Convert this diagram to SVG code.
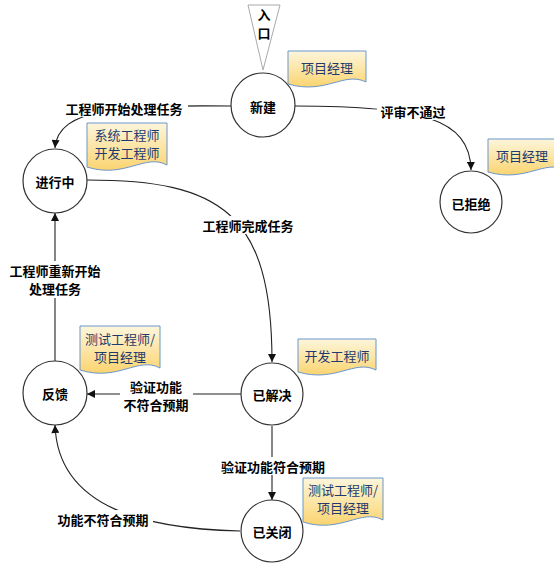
<svg xmlns="http://www.w3.org/2000/svg" width="554" height="571" viewBox="0 0 554 571">
<style>
.node{fill:#fff;stroke:#333;stroke-width:1.2}
.t{font-family:"Noto Sans CJK SC","Noto Sans",sans-serif;font-size:13px;font-weight:bold;fill:#000;text-anchor:middle;dominant-baseline:central}
.nt{font-family:"Noto Sans CJK SC","Noto Sans",sans-serif;font-size:13px;fill:#1f3a6e;text-anchor:middle;dominant-baseline:central}
.c{fill:none;stroke:#222;stroke-width:1.1}
.doc{fill:url(#g);stroke:#6a96cc;stroke-width:1}
.bg{fill:#fff}
</style>
<defs>
<linearGradient id="g" x1="0" y1="0" x2="0" y2="1">
<stop offset="0" stop-color="#fdf6dc"/>
<stop offset="1" stop-color="#fbd470"/>
</linearGradient>
<marker id="a" viewBox="0 0 10 10" refX="10" refY="5" markerWidth="9" markerHeight="8" markerUnits="userSpaceOnUse" orient="auto">
<path d="M0,0 L10,5 L0,10 z" fill="#111"/>
</marker>
<path id="d1" d="M0,0 H78 V31 C56,20 38,44 0,33 Z"/>
<path id="d2" d="M0,0 H80 V42 C58,30 38,56 0,44 Z"/>
</defs>

<g id="connectors">
<path class="c" d="M231,106 C120,105 58,108 55,148" marker-end="url(#a)"/>
<path class="c" d="M295,106 C420,106 470,118 471,170" marker-end="url(#a)"/>
<path class="c" d="M87,180 C220,180 272,212 272,362" marker-end="url(#a)"/>
<path class="c" d="M55,361 V213" marker-end="url(#a)"/>
<path class="c" d="M241,394 H87" marker-end="url(#a)"/>
<path class="c" d="M272,426 V500" marker-end="url(#a)"/>
<path class="c" d="M240,531 C150,529 58,510 55,425" marker-end="url(#a)"/>
</g>

<g id="labels">
<rect class="bg" x="60" y="99" width="128" height="18"/>
<text class="t" x="124" y="108">工程师开始处理任务</text>
<rect class="bg" x="377" y="102" width="72" height="18"/>
<text class="t" x="413" y="111">评审不通过</text>
<rect class="bg" x="198" y="216" width="101" height="18"/>
<text class="t" x="248" y="225">工程师完成任务</text>
<rect class="bg" x="5" y="261" width="100" height="37"/>
<text class="t" x="55" y="270">工程师重新开始</text>
<text class="t" x="55" y="288">处理任务</text>
<rect class="bg" x="120" y="377" width="73" height="37"/>
<text class="t" x="156" y="386">验证功能</text>
<text class="t" x="156" y="404">不符合预期</text>
<rect class="bg" x="217" y="457" width="112" height="18"/>
<text class="t" x="273" y="466">验证功能符合预期</text>
<rect class="bg" x="54" y="510" width="99" height="18"/>
<text class="t" x="103" y="519">功能不符合预期</text>
</g>

<g id="entry">
<path d="M248,5 H280 L263,70 Z" fill="#fff" stroke="#aaa" stroke-width="1"/>
<text class="t" x="264" y="14">入</text>
<text class="t" x="264" y="32">口</text>
</g>

<g id="n-new"><circle class="node" cx="263" cy="105" r="32"/><text class="t" x="263" y="106">新建</text></g>
<g id="n-progress"><circle class="node" cx="55" cy="181" r="32"/><text class="t" x="55" y="181">进行中</text></g>
<g id="n-rejected"><circle class="node" cx="471" cy="202" r="31"/><text class="t" x="471" y="203">已拒绝</text></g>
<g id="n-feedback"><circle class="node" cx="55" cy="393" r="32"/><text class="t" x="55" y="393">反馈</text></g>
<g id="n-resolved"><circle class="node" cx="272" cy="394" r="31"/><text class="t" x="272" y="394">已解决</text></g>
<g id="n-closed"><circle class="node" cx="272" cy="531" r="31"/><text class="t" x="272" y="531">已关闭</text></g>

<g id="note-new"><use href="#d1" class="doc" transform="translate(288,51)"/><text class="nt" x="327" y="67">项目经理</text></g>
<g id="note-progress"><use href="#d2" class="doc" transform="translate(87,123)"/><text class="nt" x="127" y="134">系统工程师</text><text class="nt" x="127" y="152">开发工程师</text></g>
<g id="note-rejected"><use href="#d1" class="doc" transform="translate(488,139)"/><text class="nt" x="522" y="155">项目经理</text></g>
<g id="note-feedback"><use href="#d2" class="doc" transform="translate(80,326)"/><text class="nt" x="120" y="338">测试工程师/</text><text class="nt" x="120" y="356">项目经理</text></g>
<g id="note-resolved"><use href="#d1" class="doc" transform="translate(298,339)"/><text class="nt" x="337" y="355">开发工程师</text></g>
<g id="note-closed"><use href="#d2" class="doc" transform="translate(303,478)"/><text class="nt" x="343" y="489">测试工程师/</text><text class="nt" x="343" y="507">项目经理</text></g>
</svg>
